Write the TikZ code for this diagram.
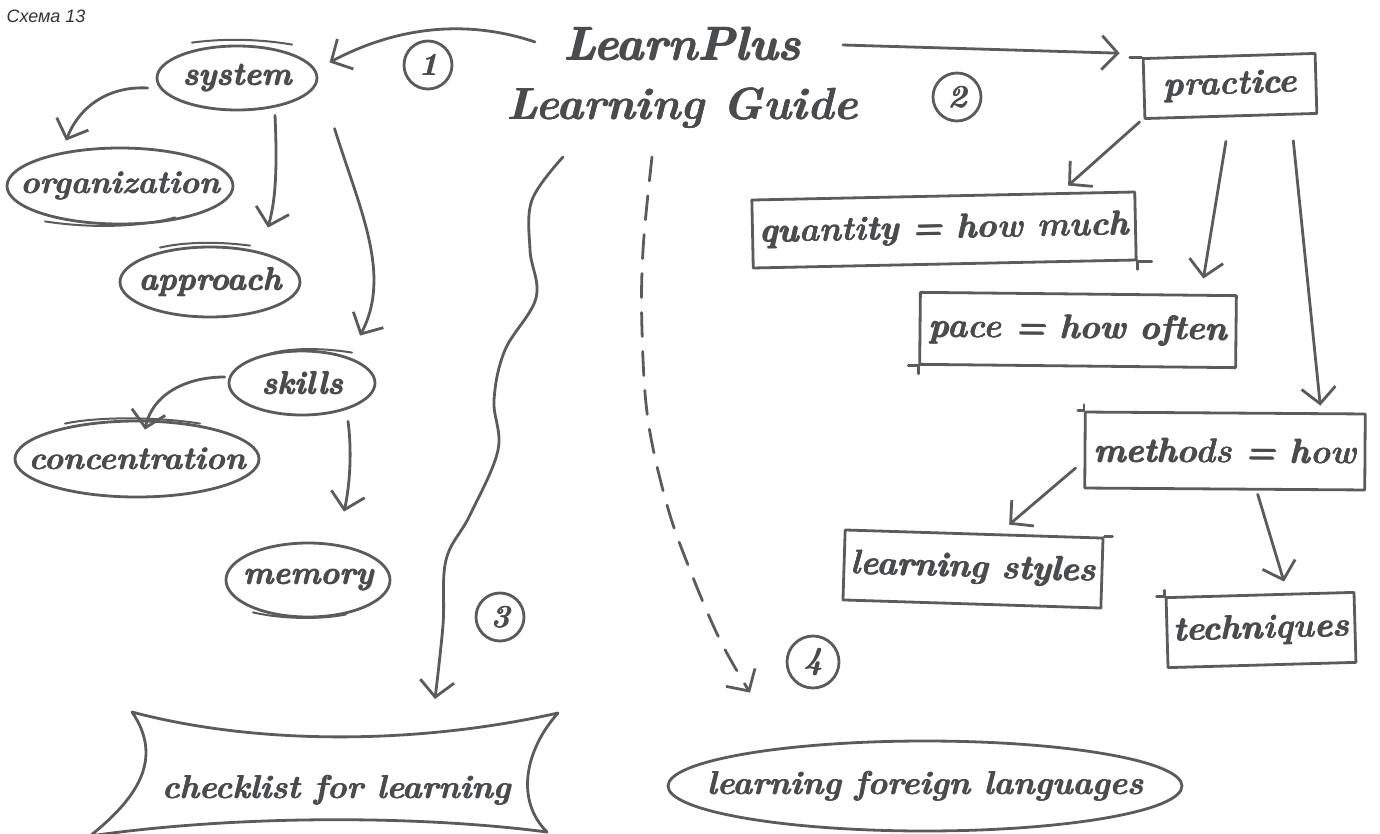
\documentclass[tikz,border=0pt]{standalone}
\usepackage[T1]{fontenc}
\usepackage{fontspec}
\newfontfamily\capfont{Liberation Sans}
\usetikzlibrary{shapes.geometric,arrows.meta,calc}
\definecolor{ink}{HTML}{5A5B5D}
\definecolor{txt}{HTML}{4A4B4D}
% handwriting-like face: bold italic, with a light extra stroke
\newcommand\hand{\normalfont\bfseries\itshape}
\newcommand\fb[1]{\leavevmode\rlap{\kern0.7pt#1}\rlap{\raise0.5pt\hbox{#1}}#1}
% label whose width does not widen its shape
\newcommand\lbl[1]{\makebox[0pt][c]{\fb{#1}}}
\begin{document}
\begin{tikzpicture}[x=1pt,y=-1pt,
  pen/.style={draw=ink,line width=2.8pt,line cap=round,line join=round},
  pen2/.style={draw=ink,line width=2pt,line cap=round},
  tip/.style={-{Straight Barb[length=16pt,width=34pt,line width=2.8pt]}},
  arr/.style={pen,tip},
  hw/.style={font=\hand\fontsize{34}{34}\selectfont,text=txt},
  oval/.style={ellipse,pen,inner sep=0pt,hw,font=\hand\fontsize{32}{32}\selectfont},
  tag/.style={rectangle,pen,inner sep=0pt,hw},
  num/.style={circle,pen,minimum size=48pt,inner sep=0pt,font=\hand\fontsize{32}{32}\selectfont,text=txt},
]
\useasboundingbox (0,0) rectangle (1380,834);
\fill[white] (0,0) rectangle (1380,834);

% caption
\node[anchor=north west,font=\capfont\itshape\fontsize{18}{18}\selectfont,text=black!80] (cap) at (3,6) {Схема 13};

% title
\node[hw,font=\hand\fontsize{47}{47}\selectfont] (t1) at (682,44) {\fb{LearnPlus}};
\node[hw,font=\hand\fontsize{45}{45}\selectfont] (t2) at (682,108) {\fb{Learning Guide}};

% left branch: ovals
\node[oval,minimum width=160pt,minimum height=64pt] (system) at (237,78) {\lbl{system}};
\node[oval,minimum width=226pt,minimum height=76pt] (org) at (120,186) {\lbl{organization}};
\node[oval,minimum width=180pt,minimum height=70pt] (appr) at (210,282) {\lbl{approach}};
\node[oval,minimum width=146pt,minimum height=64pt] (skills) at (302,383) {\lbl{skills}};
\node[oval,minimum width=244pt,minimum height=76pt] (conc) at (137,459) {\lbl{concentration}};
\node[oval,minimum width=164pt,minimum height=74pt] (mem) at (308,580) {\lbl{memory}};

% doubled strokes on the ovals
\draw[pen2] ($(system.north)+(-45,-2)$) .. controls ($(system.north)+(-15,-6)$) and ($(system.north)+(20,-6)$) .. ($(system.north)+(55,0)$);
\draw[pen2] ($(org.south)+(-75,-4)$) .. controls ($(org.south)+(-30,3)$) and ($(org.south)+(20,2)$) .. ($(org.south)+(55,-8)$);
\draw[pen2] ($(appr.north)+(-50,2)$) .. controls ($(appr.north)+(-25,-4)$) and ($(appr.north)+(10,-4)$) .. ($(appr.north)+(40,0)$);
\draw[pen2] ($(skills.north)+(-35,5)$) .. controls ($(skills.north)+(-15,-2)$) and ($(skills.north)+(20,-2)$) .. ($(skills.north)+(50,3)$);
\draw[pen2] ($(conc.north)+(-72,4)$) .. controls ($(conc.north)+(-40,-3)$) and ($(conc.north)+(20,-3)$) .. ($(conc.north)+(63,4)$);
\draw[pen2] ($(mem.south)+(-55,-6)$) .. controls ($(mem.south)+(-25,1)$) and ($(mem.south)+(15,1)$) .. ($(mem.south)+(38,-4)$);

% right branch: boxes
\node[tag,minimum width=172pt,minimum height=60pt,rotate=1.7] (prac) at (1230,86) {\lbl{practice}};
\node[tag,minimum width=383pt,minimum height=68pt,rotate=1.2] (quant) at (944,230) {\lbl{quantity = how much}};
\node[tag,minimum width=316pt,minimum height=72pt,rotate=-0.6] (pace) at (1078,330) {\lbl{pace = how often}};
\node[tag,minimum width=280pt,minimum height=76pt,rotate=-0.4] (meth) at (1225,451) {\lbl{methods = how}};
\node[tag,minimum width=258pt,minimum height=70pt,rotate=-1.8] (styles) at (973,569) {\lbl{learning styles}};
\node[tag,minimum width=188pt,minimum height=70pt,rotate=1.6] (tech) at (1261,630) {\lbl{techniques}};

% overshooting corners of the boxes
\draw[pen] ($(prac.north west)+(-12,0)$) -- (prac.north west);
\draw[pen] (quant.south east) -- ($(quant.south east)+(14,0)$);
\draw[pen] (quant.south east) -- ($(quant.south east)+(0,8)$);
\draw[pen] ($(pace.south west)+(-10,0)$) -- (pace.south west) -- ($(pace.south west)+(0,8)$);
\draw[pen] ($(meth.north west)+(-6,0)$) -- (meth.north west) -- ($(meth.north west)+(0,-6)$);
\draw[pen] (styles.north east) -- ($(styles.north east)+(8,0)$);
\draw[pen] ($(tech.north west)+(-8,0)$) -- (tech.north west) -- ($(tech.north west)+(0,-6)$);

% bottom targets
\node[hw,font=\hand\fontsize{33}{33}\selectfont] (chk) at (336,790) {\fb{checklist for learning}};
\draw[pen] ($(chk)+(-204,-78)$) .. controls ($(chk)+(-80,-45)$) and ($(chk)+(80,-45)$) .. ($(chk)+(222,-77)$)
  .. controls ($(chk)+(189,-40)$) and ($(chk)+(179,10)$) .. ($(chk)+(211,42)$)
  .. controls ($(chk)+(80,25)$) and ($(chk)+(-100,25)$) .. ($(chk)+(-246,46)$)
  .. controls ($(chk)+(-201,10)$) and ($(chk)+(-171,-30)$) .. cycle;
\node[oval,minimum width=514pt,minimum height=90pt,font=\hand\fontsize{33}{33}\selectfont] (lang) at (925,786) {\lbl{learning foreign languages}};

% numbered circles
\node[num] (n1) at (428,65) {\fb{1}};
\node[num] (n2) at (957,97) {\fb{2}};
\node[num] (n3) at (500,617) {\fb{3}};
\node[num,minimum size=52pt] (n4) at (813,662) {\fb{4}};

% connectors of the left branch
\draw[arr] ($(t1.center)+(-147,-2)$) .. controls (470,20) and (400,25) .. ($(system.north east)+(35,8)$);
\draw[arr] ($(system.west)+(-8,10)$) .. controls (110,86) and (80,105) .. ($(org.north)+(-54,-6)$);
\draw[arr] ($(system.south)+(38,4)$) .. controls (278,180) and (274,205) .. ($(appr.north)+(58,-18)$);
\draw[arr] ($(system.south east)+(40,27)$) .. controls (360,210) and (392,275) .. ($(skills.north)+(58,-14)$);
\draw[arr] ($(skills.west)+(-3,-6)$) .. controls (185,377) and (152,395) .. ($(conc.north)+(8,10)$);
\draw[arr] ($(skills.south)+(46,5)$) .. controls (352,450) and (350,485) .. ($(mem.north)+(36,-30)$);

% connectors of the right branch
\draw[arr] ($(t1.center)+(161,1)$) -- ($(prac.north west)+(-22,-4)$);
\draw[arr] ($(prac.south west)+(-4,2)$) -- ($(quant.north east)+(-68,-5)$);
\draw[arr] ($(prac.south)+(-5,24)$) -- ($(pace.north)+(125,-14)$);
\draw[arr] ($(prac.south east)+(-25,26)$) -- ($(meth.north)+(95,-6)$);
\draw[arr] ($(meth.west)+(-8,18)$) -- ($(styles.north)+(35,-8)$);
\draw[arr] ($(meth.south)+(33,4)$) -- ($(tech.north)+(24,-12)$);

% connectors to the bottom targets: a wavy line and a dashed curve
\draw[arr] plot[smooth,tension=0.6] coordinates {($(t2.center)+(-119,49)$) (532,200) (530,250) (536,298) (505,350)
  (494,400) (498,450) (470,515) (446,560) (443,625) ($(chk.center)+(99,-91)$)};
\draw[pen,dashed,dash pattern=on 24pt off 15pt,tip] plot[smooth,tension=0.6] coordinates {($(t2.center)+(-30,49)$)
  (643,250) (642,330) (648,420) (667,505) (690,570) (720,640) ($(lang.north)+(-175,-47)$)};
\end{tikzpicture}
\end{document}
